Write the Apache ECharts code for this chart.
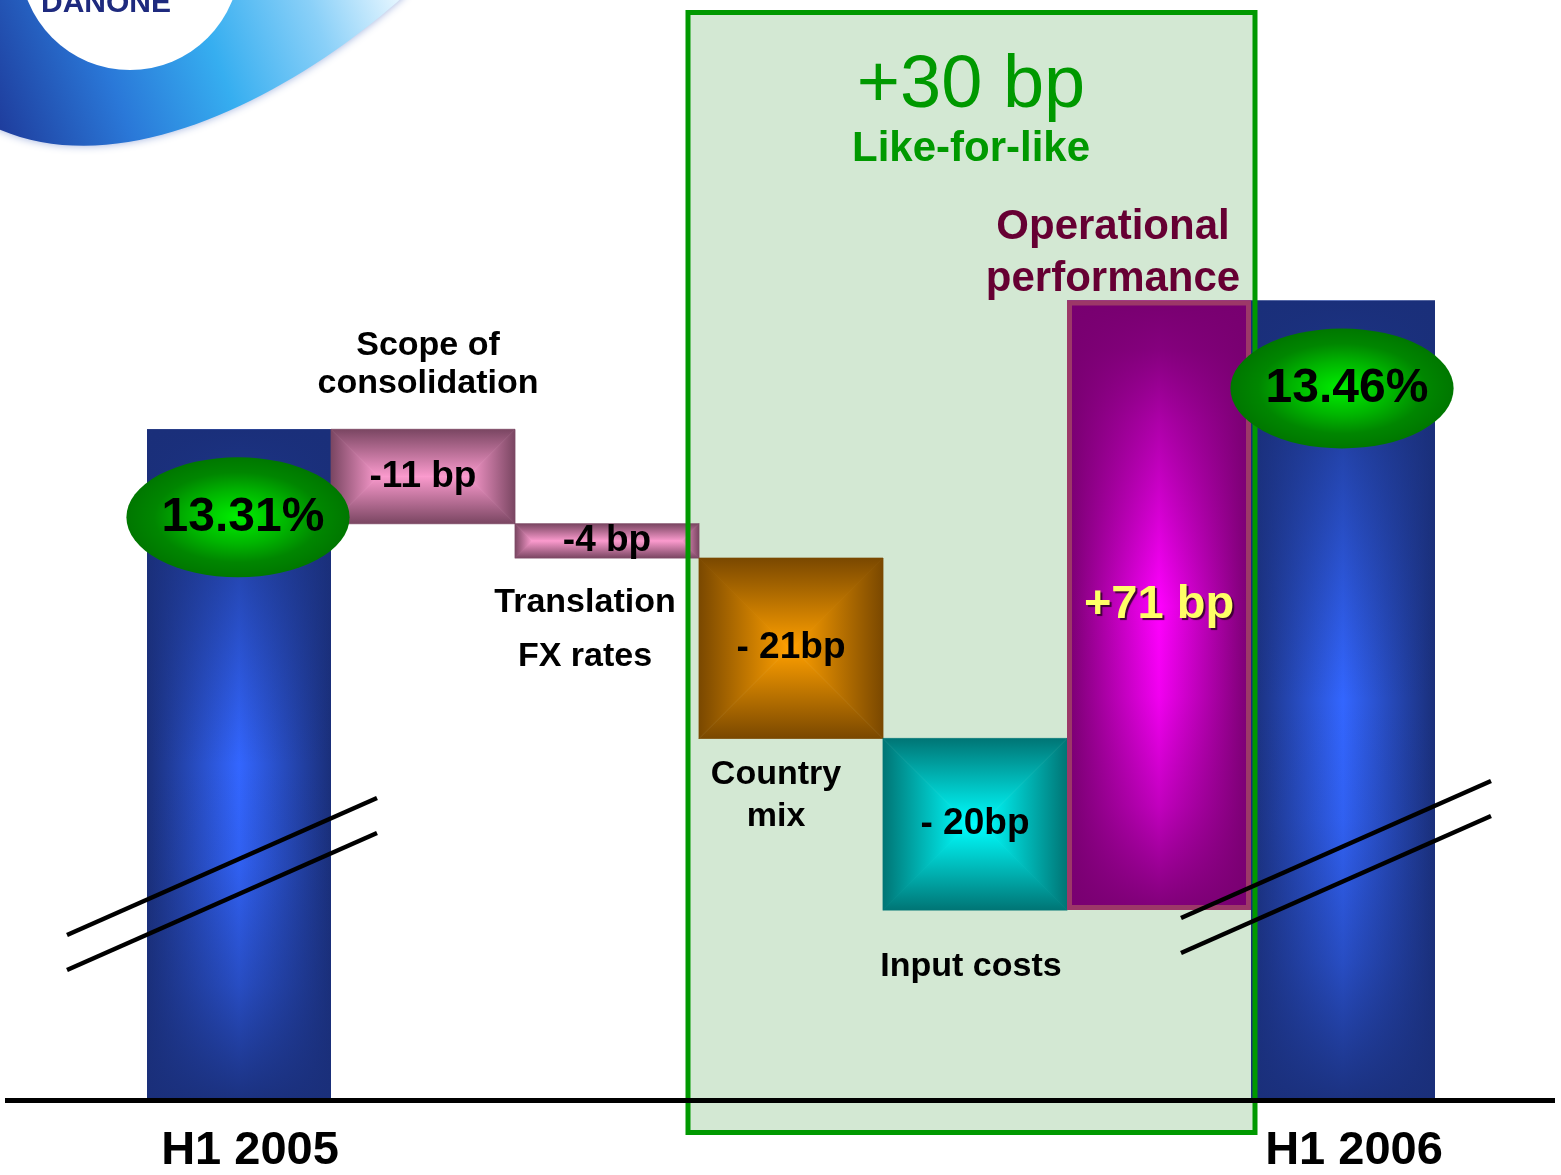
<!DOCTYPE html>
<html>
<head>
<meta charset="utf-8">
<title>Operating margin bridge H1 2005 - H1 2006</title>
<script src="https://cdn.jsdelivr.net/npm/echarts@6/dist/echarts.min.js"></script>
<style>
html, body { margin: 0; padding: 0; background: #fff; }
#main { width: 1561px; height: 1175px; }
</style>
</head>
<body>
<div id="main"></div>
<script>
// categories, line breaks as printed on the slide
var categories = ['H1 2005', 'Scope of\nconsolidation', 'Translation\nFX rates', 'Country\nmix', 'Input costs', 'Operational\nperformance', 'H1 2006'];
// operating margin (%)
var totals = [13.31, null, null, null, null, null, 13.46];
// change (basis points)
var steps = [null, -11, -4, -21, -20, 71, null];
// value labels as written on the bars
var valueLabels = ['13.31%', '-11 bp', '-4 bp', '- 21bp', '- 20bp', '+71 bp', '13.46%'];

// colours (edge -> centre of each shaded bar)
var edgeColors = ['#1a2f7a', '#7a4662', '#7a4662', '#7a4800', '#007575', '#780070', '#1a2f7a'];
var centerColors = ['#3366ff', '#fa9acd', '#fa9acd', '#ffa000', '#00ffff', '#ff00ff', '#3366ff'];
var FONT = '"Liberation Sans", Arial, sans-serif';

// waterfall rows: [index, low, high] in bp
var rows = [];
var level = totals[0] * 100;
for (var i = 0; i < categories.length; i++) {
	if (totals[i] != null) {
		level = Math.round(totals[i] * 100);
		rows.push([i, 0, level]);
	} else {
		var next = level + steps[i];
		rows.push([i, Math.min(level, next), Math.max(level, next)]);
		level = next;
	}
}
var lfl = steps[3] + steps[4] + steps[5];
var lflLabel = (lfl > 0 ? '+' : '') + lfl + ' bp';

function rgba(hex, a) {
	var n = parseInt(hex.slice(1), 16);
	return 'rgba(' + (n >> 16) + ',' + ((n >> 8) & 255) + ',' + (n & 255) + ',' + a + ')';
}

// "from centre" rectangle gradient, built of four shaded pieces
function pyramidFill(x, y, w, h, edge, center) {
	var d = Math.min(w, h) / 2;
	var ax, ay, bx, by;
	if (w >= h) {
		ax = x + d; bx = x + w - d; ay = by = y + d;
	} else {
		ax = bx = x + d; ay = y + d; by = y + h - d;
	}
	function lg(x1, y1, x2, y2) {
		return new echarts.graphic.LinearGradient(x1, y1, x2, y2,
			[{offset: 0, color: edge}, {offset: 1, color: center}], true);
	}
	var parts = [
		{pts: [[x, y], [x + w, y], [bx, ay], [ax, ay]], g: lg(x, y, x, ay)},
		{pts: [[x, y + h], [x + w, y + h], [bx, by], [ax, by]], g: lg(x, y + h, x, by)},
		{pts: [[x, y], [x, y + h], [ax, by], [ax, ay]], g: lg(x, y, ax, y)},
		{pts: [[x + w, y], [x + w, y + h], [bx, by], [bx, ay]], g: lg(x + w, y, bx, y)}
	];
	return parts.map(function(p) {
		return {
			type: 'polygon',
			shape: {points: p.pts},
			style: {fill: p.g, stroke: p.g, lineWidth: 0.8}
		};
	});
}

// tall bars: horizontal shading plus a vertical darkening veil
function tallFill(x, y, w, h, edge, center) {
	return [{
		type: 'rect',
		shape: {x: x, y: y, width: w, height: h},
		style: {
			fill: new echarts.graphic.LinearGradient(0, 0, 1, 0, [
				{offset: 0, color: edge}, {offset: 0.5, color: center}, {offset: 1, color: edge}])
		}
	}, {
		type: 'rect',
		shape: {x: x, y: y, width: w, height: h},
		style: {
			fill: new echarts.graphic.LinearGradient(0, 0, 0, 1, [
				{offset: 0, color: rgba(edge, 1)},
				{offset: 0.08, color: rgba(edge, 0.9)},
				{offset: 0.2, color: rgba(edge, 0.6)},
				{offset: 0.35, color: rgba(edge, 0.3)},
				{offset: 0.5, color: rgba(edge, 0)},
				{offset: 0.65, color: rgba(edge, 0.1)},
				{offset: 0.83, color: rgba(edge, 0.45)},
				{offset: 1, color: rgba(edge, 0.95)}])
		}
	}];
}

function barBox(params, api) {
	var i = api.value(0);
	var top = api.coord([i, api.value(2)]);
	var bot = api.coord([i, api.value(1)]);
	var cs = params.coordSys;
	var w = api.size([1, 0])[0];
	var x = top[0] - w / 2;
	var y = Math.max(top[1], cs.y);
	var h = Math.min(bot[1], cs.y + cs.height) - y;
	return {x: x, y: y, w: w, h: h, cx: top[0]};
}

function renderBar(params, api) {
	var i = api.value(0);
	var b = barBox(params, api);
	var kids;
	if (b.h > b.w * 1.5) {
		kids = tallFill(b.x, b.y, b.w, b.h, edgeColors[i], centerColors[i]);
	} else {
		kids = pyramidFill(b.x, b.y, b.w, b.h, edgeColors[i], centerColors[i]);
	}
	if (steps[i] > 0) {
		kids.push({
			type: 'rect',
			shape: {x: b.x + 2.5, y: b.y + 2.5, width: b.w - 5, height: b.h - 5},
			style: {fill: 'none', stroke: '#9c3868', lineWidth: 5}
		});
	}
	return {type: 'group', children: kids};
}

var ellipseFill = new echarts.graphic.RadialGradient(0.5, 0.5, 0.5, [
	{offset: 0, color: '#00f000'},
	{offset: 0.45, color: '#00b400'},
	{offset: 0.75, color: '#008600'},
	{offset: 1, color: '#007700'}
]);

function renderLabel(params, api) {
	var i = api.value(0);
	var b = barBox(params, api);
	if (totals[i] != null) {
		var ey = b.y + 88;
		return {
			type: 'group',
			children: [{
				type: 'circle', x: b.cx - 1, y: ey, scaleX: 1.86, scaleY: 1,
				shape: {cx: 0, cy: 0, r: 60},
				style: {fill: ellipseFill}
			}, {
				type: 'text', x: b.cx + 4, y: ey,
				style: {
					text: valueLabels[i], fill: '#000', fontFamily: FONT, fontWeight: 'bold', fontSize: 48,
					align: 'center', verticalAlign: 'middle'
				}
			}]
		};
	}
	var big = steps[i] > 0;
	return {
		type: 'text', x: b.cx, y: b.y + b.h / 2,
		style: {
			text: valueLabels[i],
			fill: big ? '#ffff66' : '#000',
			fontFamily: FONT, fontWeight: 'bold', fontSize: big ? 47 : 37,
			align: 'center', verticalAlign: 'middle',
			textShadowColor: big ? 'rgba(50,0,40,0.9)' : 'transparent',
			textShadowOffsetX: big ? 2 : 0,
			textShadowOffsetY: big ? 2 : 0,
			textShadowBlur: big ? 1 : 0
		}
	};
}

function swooshPoints() {
	var p0 = [405, -5], c1 = [300, 90], c2 = [120, 190], p3 = [-10, 125];
	var pts = [];
	for (var k = 0; k <= 40; k++) {
		var t = k / 40, a = (1 - t) * (1 - t) * (1 - t), b = 3 * (1 - t) * (1 - t) * t,
			c = 3 * (1 - t) * t * t, d = t * t * t;
		pts.push([a * p0[0] + b * c1[0] + c * c2[0] + d * p3[0], a * p0[1] + b * c1[1] + c * c2[1] + d * p3[1]]);
	}
	pts.push([-10, -10]);
	pts.push([405, -10]);
	return pts;
}

function annot(text, x, y, size, color, lineHeight, weight) {
	return {
		type: 'text', x: x, y: y, z: 30,
		style: {
			text: text, fill: color, fontFamily: FONT, fontWeight: weight || 'bold', fontSize: size,
			lineHeight: lineHeight || size, align: 'center', verticalAlign: 'middle'
		}
	};
}

var graphics = [
	// logo corner
	{
		type: 'polygon', z: 1,
		shape: {points: swooshPoints()},
		style: {
			fill: new echarts.graphic.LinearGradient(0, 150, 400, 0, [
				{offset: 0, color: '#1e3a9a'}, {offset: 0.3, color: '#2a78d8'},
				{offset: 0.55, color: '#36aef0'}, {offset: 0.8, color: '#8ad0f8'},
				{offset: 1, color: '#e6f6ff'}], true),
			shadowBlur: 8, shadowColor: 'rgba(40,80,180,0.45)'
		}
	},
	{type: 'circle', z: 1, shape: {cx: 130, cy: -40, r: 110}, style: {fill: '#fff'}},
	{
		type: 'text', x: 106, y: 4, z: 1,
		style: {text: 'DANONE', fill: '#1e2a7e', fontFamily: FONT, fontWeight: 'bold', fontSize: 30, align: 'center', verticalAlign: 'middle'}
	},
	// like-for-like box
	{type: 'rect', z: 0, shape: {x: 688, y: 12.5, width: 567, height: 1120}, style: {fill: '#d3e8d3'}},
	{type: 'rect', z: 3, shape: {x: 688, y: 12.5, width: 567, height: 1120}, style: {fill: 'none', stroke: '#009900', lineWidth: 5}},
	annot(lflLabel, 971, 87, 74, '#009900', 74, 'normal'),
	annot('Like-for-like', 971, 149, 42, '#009900'),
	// category annotations
	annot(categories[1], 428, 365, 34, '#000', 38),
	annot(categories[2], 585, 630, 34, '#000', 54),
	annot(categories[3], 776, 796, 34, '#000', 42),
	annot(categories[4], 971, 967, 34, '#000'),
	annot(categories[5], 1113, 253, 42, '#660033', 52),
	// axis line
	{type: 'line', z: 35, shape: {x1: 5, y1: 1100.5, x2: 1555, y2: 1100.5}, style: {stroke: '#000', lineWidth: 5}}
];
// axis break marks
[[67, 935, 377, 798], [67, 970, 377, 833], [1181, 918, 1491, 781], [1181, 953, 1491, 816]].forEach(function(l) {
	graphics.push({type: 'line', z: 40, shape: {x1: l[0], y1: l[1], x2: l[2], y2: l[3]}, style: {stroke: '#000', lineWidth: 4.5}});
});

var myChart = echarts.init(document.getElementById('main'));
var option = {
	animation: false,
	backgroundColor: '#fff',
	grid: {left: 147, right: 126, top: 0, bottom: 75},
	xAxis: {
		type: 'category',
		data: categories,
		axisLine: {show: false},
		axisTick: {show: false},
		axisLabel: {
			interval: 0,
			margin: 29,
			color: '#000',
			fontFamily: FONT,
			fontWeight: 'bold',
			fontSize: 47,
			formatter: function(v, idx) {
				return totals[idx] != null ? '{t|' + v + '}' : '';
			},
			rich: {
				t: {
					padding: [0, 0, 0, 22],
					color: '#000',
					fontFamily: FONT,
					fontWeight: 'bold',
					fontSize: 47
				}
			}
		}
	},
	yAxis: {
		type: 'value',
		min: 1253,
		max: 1381,
		show: false,
		splitLine: {show: false}
	},
	series: [{
		name: 'bars',
		type: 'custom',
		z: 2,
		renderItem: renderBar,
		encode: {x: 0, y: [1, 2]},
		data: rows
	}, {
		name: 'labels',
		type: 'custom',
		z: 4,
		renderItem: renderLabel,
		encode: {x: 0, y: [1, 2]},
		data: rows
	}],
	graphic: graphics
};
myChart.setOption(option);
</script>
</body>
</html>
